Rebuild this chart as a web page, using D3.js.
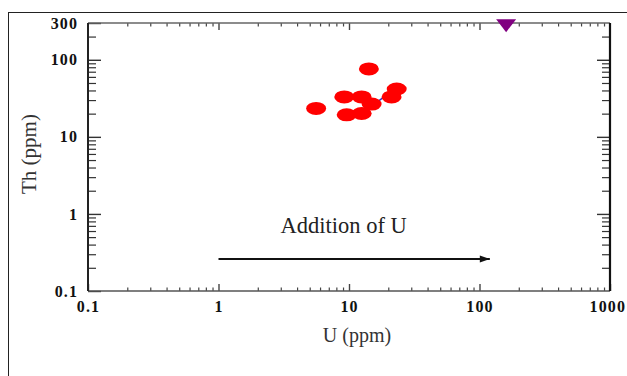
<!DOCTYPE html>
<html>
<head>
<meta charset="utf-8">
<script src="https://cdn.jsdelivr.net/npm/d3@7"></script>
<style>
  body { margin: 0; background: #fff; }
  svg { display: block; }
</style>
</head>
<body>
<div id="chart"></div>
<script>
// sample points, U (ppm) vs Th (ppm)
const sampleU  = [14.2, 9.2, 12.5, 5.6, 9.6, 12.5, 14.9, 23.2, 21.2];
const sampleTh = [76,   33,  33,   23.4, 19.3, 20.1, 26.6, 41.8, 33];
const refU  = [160];
const refTh = [290];
const hiddenU = [17.2];
const hiddenTh = [30];

const xMajor = [0.1, 1, 10, 100, 1000];
const xLabels = ["0.1", "1", "10", "100", "1000"];
const yMajor = [0.1, 1, 10, 100, 300];
const yLabels = ["0.1", "1", "10", "100", "300"];

const arrowU = [1, 120];
const arrowTh = 0.26;
const noteU = 9.1, noteTh = 0.57;

function minors(lo, hi) {
    var out = [];
    for (var p = lo; p < hi; p++) {
        for (var k = 2; k <= 9; k++) {
            var v = k * Math.pow(10, p);
            out.push(+v.toPrecision(3));
        }
    }
    return out;
}

var width = 627, height = 376;
var margin = { top: 23, right: 17, bottom: 85, left: 88 };

const x_scale = d3.scaleLog()
    .domain([0.1, 1000])
    .range([margin.left, width - margin.right]);

const y_scale = d3.scaleLog()
    .domain([0.1, 300])
    .range([height - margin.bottom, margin.top]);

const svg = d3.select("#chart").append("svg")
    .attr("width", width)
    .attr("height", height);

// outer frame
svg.append("rect")
    .attr("x", 8.5).attr("y", 12.5)
    .attr("width", 700).attr("height", 500)
    .attr("fill", "none")
    .attr("stroke", "#222")
    .attr("stroke-width", 1);

const x0 = x_scale.range()[0], x1 = x_scale.range()[1];
const y0 = y_scale.range()[0], y1 = y_scale.range()[1];

function styleAxis(g, color, w) {
    g.select(".domain").remove();
    g.selectAll(".tick line").attr("stroke", color).attr("stroke-width", w);
}

function styleLabels(g) {
    g.selectAll("text")
        .attr("fill", "#111")
        .style("font-family", "'Liberation Serif', serif")
        .style("font-weight", "bold")
        .style("font-size", "16px")
        .style("letter-spacing", "1.1px");
}

const yMinor = minors(-1, 3).filter(v => v < 300);
const xMinor = minors(-1, 3);

// left axis
svg.append("g")
    .attr("transform", `translate(${x0},0)`)
    .call(d3.axisLeft(y_scale).tickValues(yMinor).tickSize(-8).tickFormat(""))
    .call(g => styleAxis(g, "#333", 1.2));
svg.append("g")
    .attr("transform", `translate(${x0},0)`)
    .call(d3.axisLeft(y_scale).tickValues(yMajor).tickSize(-13).tickPadding(10)
        .tickFormat((d, i) => yLabels[i]))
    .call(g => styleAxis(g, "#333", 1.4))
    .call(styleLabels);

// right axis
svg.append("g")
    .attr("transform", `translate(${x1},0)`)
    .call(d3.axisRight(y_scale).tickValues(yMinor).tickSize(-8).tickFormat(""))
    .call(g => styleAxis(g, "#333", 1.2));
svg.append("g")
    .attr("transform", `translate(${x1},0)`)
    .call(d3.axisRight(y_scale).tickValues([1, 10, 100]).tickSize(-13).tickFormat(""))
    .call(g => styleAxis(g, "#333", 1.4));

// bottom axis
svg.append("g")
    .attr("transform", `translate(0,${y0})`)
    .call(d3.axisBottom(x_scale).tickValues(xMinor).tickSize(-3.5).tickFormat(""))
    .call(g => styleAxis(g, "#444", 1.2));
svg.append("g")
    .attr("transform", `translate(0,${y0})`)
    .call(d3.axisBottom(x_scale).tickValues(xMajor).tickSize(-7).tickPadding(10)
        .tickFormat((d, i) => xLabels[i]))
    .call(g => styleAxis(g, "#444", 1.4))
    .call(styleLabels)
    .call(g => g.selectAll(".tick:last-of-type text")
        .attr("text-anchor", "end")
        .attr("x", 15.5));

// top axis
svg.append("g")
    .attr("transform", `translate(0,${y1})`)
    .call(d3.axisTop(x_scale).tickValues(xMinor).tickSize(-3.5).tickFormat(""))
    .call(g => styleAxis(g, "#444", 1.2));
svg.append("g")
    .attr("transform", `translate(0,${y1})`)
    .call(d3.axisTop(x_scale).tickValues([1, 10, 100]).tickSize(-7).tickFormat(""))
    .call(g => styleAxis(g, "#444", 1.4));

// frame lines of the plot
svg.append("line").attr("x1", x0).attr("x2", x1).attr("y1", y1).attr("y2", y1)
    .attr("stroke", "#666").attr("stroke-width", 1.3);
svg.append("line").attr("x1", x0).attr("x2", x1).attr("y1", y0).attr("y2", y0)
    .attr("stroke", "#555").attr("stroke-width", 1.6);
svg.append("line").attr("x1", x0).attr("x2", x0).attr("y1", y1).attr("y2", y0)
    .attr("stroke", "#222").attr("stroke-width", 2);
svg.append("line").attr("x1", x1).attr("x2", x1).attr("y1", y1).attr("y2", y0)
    .attr("stroke", "#111").attr("stroke-width", 2.2);

// axis titles
svg.append("text")
    .text("U (ppm)")
    .attr("x", 357)
    .attr("y", 342)
    .attr("text-anchor", "middle")
    .attr("fill", "#333")
    .style("font-family", "'Liberation Serif', serif")
    .style("font-size", "20px");

svg.append("text")
    .text("Th (ppm)")
    .attr("transform", "translate(36,154) rotate(-90)")
    .attr("text-anchor", "middle")
    .attr("fill", "#333")
    .style("font-family", "'Liberation Serif', serif")
    .style("font-size", "21px");

// annotation
svg.append("defs").append("marker")
    .attr("id", "head")
    .attr("viewBox", "0 0 10 10")
    .attr("refX", 10).attr("refY", 5)
    .attr("markerWidth", 5.5).attr("markerHeight", 5)
    .attr("markerUnits", "strokeWidth")
    .attr("orient", "auto")
    .append("path")
    .attr("d", "M0,1.5L10,5L0,8.5Z")
    .attr("fill", "#111");

svg.append("line")
    .attr("x1", x_scale(arrowU[0]))
    .attr("x2", x_scale(arrowU[1]))
    .attr("y1", y_scale(arrowTh))
    .attr("y2", y_scale(arrowTh))
    .attr("stroke", "#111")
    .attr("stroke-width", 2)
    .attr("marker-end", "url(#head)");

svg.append("text")
    .text("Addition of U")
    .attr("x", x_scale(noteU))
    .attr("y", y_scale(noteTh))
    .attr("text-anchor", "middle")
    .attr("fill", "#222")
    .style("font-family", "'Liberation Serif', serif")
    .style("font-size", "22.5px");

// points
svg.append("g")
    .selectAll("path")
    .data(hiddenU)
    .join("path")
    .attr("d", (d, i) => {
        var cx = x_scale(d), cy = y_scale(hiddenTh[i]);
        return `M${cx - 4},${cy + 3}L${cx + 4},${cy - 3}`;
    })
    .attr("stroke", "#3030c0")
    .attr("stroke-width", 1.5);

svg.append("g")
    .selectAll("ellipse")
    .data(sampleU)
    .join("ellipse")
    .attr("cx", d => x_scale(d))
    .attr("cy", (d, i) => y_scale(sampleTh[i]))
    .attr("rx", 10)
    .attr("ry", 6.5)
    .attr("fill", "#ff0000");

svg.append("g")
    .selectAll("path")
    .data(refU)
    .join("path")
    .attr("d", (d, i) => {
        var cx = x_scale(d), cy = y_scale(refTh[i]);
        return `M${cx - 10},${cy - 5}L${cx + 10},${cy - 5}L${cx},${cy + 8}Z`;
    })
    .attr("fill", "#800080");
</script>
</body>
</html>
